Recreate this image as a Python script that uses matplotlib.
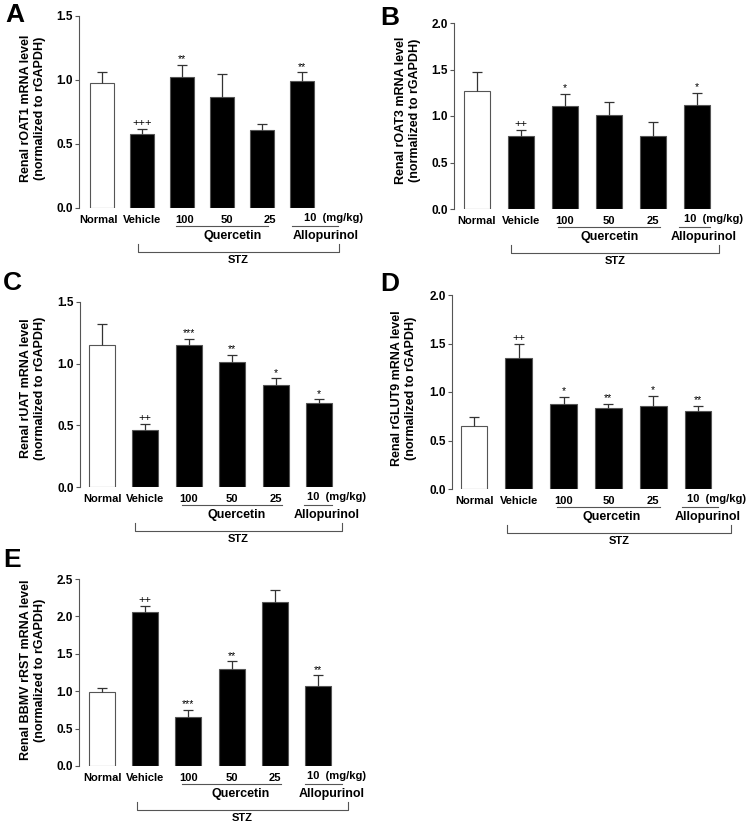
import matplotlib
matplotlib.use('Agg')
import matplotlib.pyplot as plt

plt.rcParams['font.family'] = ['Liberation Sans', 'DejaVu Sans']
plt.rcParams['font.weight'] = 'bold'

# Groups (same for every panel)
groups = ['Normal', 'Vehicle', '100', '50', '25', '']
dose_label = '10  (mg/kg)'

# Panel A: rOAT1
mean_A = [0.98, 0.58, 1.02, 0.87, 0.61, 0.99]
err_A = [0.08, 0.04, 0.10, 0.18, 0.05, 0.07]
sig_A = ['', '+++', '**', '', '', '**']

# Panel B: rOAT3
mean_B = [1.27, 0.78, 1.11, 1.01, 0.79, 1.12]
err_B = [0.20, 0.07, 0.13, 0.14, 0.15, 0.13]
sig_B = ['', '++', '*', '', '', '*']

# Panel C: rUAT
mean_C = [1.15, 0.46, 1.15, 1.01, 0.83, 0.68]
err_C = [0.17, 0.05, 0.05, 0.06, 0.05, 0.03]
sig_C = ['', '++', '***', '**', '*', '*']

# Panel D: rGLUT9
mean_D = [0.65, 1.35, 0.88, 0.83, 0.86, 0.80]
err_D = [0.09, 0.15, 0.07, 0.05, 0.10, 0.06]
sig_D = ['', '++', '*', '**', '*', '**']

# Panel E: BBMV rRST
mean_E = [0.99, 2.06, 0.65, 1.30, 2.19, 1.07]
err_E = [0.05, 0.08, 0.10, 0.10, 0.16, 0.14]
sig_E = ['', '++', '***', '**', '', '**']

ylabels = ['Renal rOAT1 mRNA level\n(normalized to rGAPDH)',
           'Renal rOAT3 mRNA level\n(normalized to rGAPDH)',
           'Renal rUAT mRNA level\n(normalized to rGAPDH)',
           'Renal rGLUT9 mRNA level\n(normalized to rGAPDH)',
           'Renal BBMV rRST mRNA level\n(normalized to rGAPDH)']
ymaxes = [1.5, 2.0, 1.5, 2.0, 2.5]
letters = ['A', 'B', 'C', 'D', 'E']
data = [(mean_A, err_A, sig_A), (mean_B, err_B, sig_B), (mean_C, err_C, sig_C),
        (mean_D, err_D, sig_D), (mean_E, err_E, sig_E)]

# layout in pixels: left, top, bottom, px per group, left offset, ylabel centre, letter pos
layout = [
    dict(left=79, top=16, bottom=208, step=40.0, off=23, lab=(33, 108), let=(5, 3),
         stz=(0.9, 5.92), quer=3.27, allo=5.6, dose=0.05, lscale=1.07, lshift=-0.08,
         aline=(4.75, 5.9)),
    dict(left=454, top=23, bottom=209, step=44.0, off=23, lab=(408, 110), let=(380, 6),
         stz=(0.77, 5.5), quer=3.02, allo=5.16, dose=-0.3, lscale=1.0, lshift=0.0,
         aline=(4.6, 5.3)),
    dict(left=80, top=302, bottom=487, step=43.4, off=22, lab=(33, 388), let=(3, 271),
         stz=(0.77, 5.53), quer=3.1, allo=5.18, dose=-0.28, lscale=1.0, lshift=0.0,
         aline=(4.65, 5.3)),
    dict(left=452, top=295, bottom=489, step=44.8, off=22, lab=(404, 388), let=(380, 272),
         stz=(0.73, 5.74), quer=3.08, allo=5.22, dose=-0.25, lscale=1.0, lshift=0.0,
         aline=(4.65, 5.45)),
    dict(left=79, top=579, bottom=766, step=43.2, off=23, lab=(33, 670), let=(3, 548),
         stz=(0.81, 5.7), quer=3.2, allo=5.32, dose=-0.25, lscale=1.0, lshift=0.0,
         aline=(4.7, 5.55)),
]

W, H = 750, 824
fig = plt.figure(figsize=(W / 100, H / 100), dpi=100)
edge = '#555555'

for i in range(5):
    L = layout[i]
    means, errs, sigs = data[i]
    x0 = -L['off'] / L['step']
    x1 = 5.62
    width_px = (x1 - x0) * L['step']
    h_px = L['bottom'] - L['top']
    ax = fig.add_axes([L['left'] / W, 1 - L['bottom'] / H, width_px / W, h_px / H])
    ax.set_xlim(x0, x1)
    ax.set_ylim(0, ymaxes[i])

    xs = list(range(len(groups)))
    colors = ['white'] + ['black'] * 5
    ax.bar(xs, means, width=0.6, color=colors, edgecolor=edge, linewidth=0.8, zorder=2)
    tops = [m + e for m, e in zip(means, errs)]
    cw = 5.0 / L['step']
    ax.vlines(xs, means, tops, color='#333333', linewidth=0.9, zorder=3)
    ax.hlines(tops, [x - cw for x in xs], [x + cw for x in xs], color='#333333',
              linewidth=0.9, zorder=3)
    for x, t, s in zip(xs, tops, sigs):
        if s:
            fs = 7.5 if '*' in s else 8
            ax.annotate(s, xy=(x, t), xytext=(0, 0.5), textcoords='offset points',
                        ha='center', va='bottom', fontsize=fs, fontweight='normal')

    # axes style
    for sp in ['top', 'right', 'bottom']:
        ax.spines[sp].set_visible(False)
    ax.spines['left'].set_color(edge)
    ax.spines['left'].set_linewidth(0.8)
    yt = [k * 0.5 for k in range(int(ymaxes[i] / 0.5) + 1)]
    ax.set_yticks(yt)
    ax.set_yticklabels(['%.1f' % v for v in yt], fontsize=8.5, fontweight='bold')
    ax.tick_params(axis='y', length=3, width=0.8, color=edge, pad=1.5)
    ax.set_xticks([x * L['lscale'] + L['lshift'] for x in xs])
    ax.set_xticklabels(groups, fontsize=8, fontweight='bold')
    ax.tick_params(axis='x', length=0, pad=5)
    ax.set_facecolor('none')

    trans = ax.get_xaxis_transform()
    fy = lambda px: -px / h_px
    ax.text(5 + L['dose'], fy(10), dose_label, transform=trans, ha='left', va='center',
            fontsize=8, fontweight='bold')
    # Quercetin underline
    ax.plot([1.85, 4.15], [fy(18)] * 2, transform=trans, color=edge, lw=0.8, clip_on=False)
    ax.text(L['quer'], fy(28), 'Quercetin', transform=trans, ha='center', va='center',
            fontsize=9, fontweight='bold')
    # Allopurinol underline
    ax.plot(list(L['aline']), [fy(18)] * 2, transform=trans, color=edge, lw=0.8,
            clip_on=False)
    ax.text(L['allo'], fy(28), 'Allopurinol', transform=trans, ha='center', va='center',
            fontsize=9, fontweight='bold')
    # STZ bracket
    s0, s1 = L['stz']
    ax.plot([s0, s0, s1, s1], [fy(36), fy(44), fy(44), fy(36)], transform=trans,
            color=edge, lw=0.8, clip_on=False)
    ax.text((s0 + s1) / 2, fy(52), 'STZ', transform=trans, ha='center', va='center',
            fontsize=8, fontweight='bold')

    fig.text(L['lab'][0] / W, 1 - L['lab'][1] / H, ylabels[i], rotation=90,
             ha='center', va='center', multialignment='center', fontsize=9,
             fontweight='bold', linespacing=1.15)
    fig.text(L['let'][0] / W, 1 - L['let'][1] / H, letters[i], ha='left', va='top',
             fontsize=19, fontweight='bold')

fig.savefig('out.png', dpi=100)
